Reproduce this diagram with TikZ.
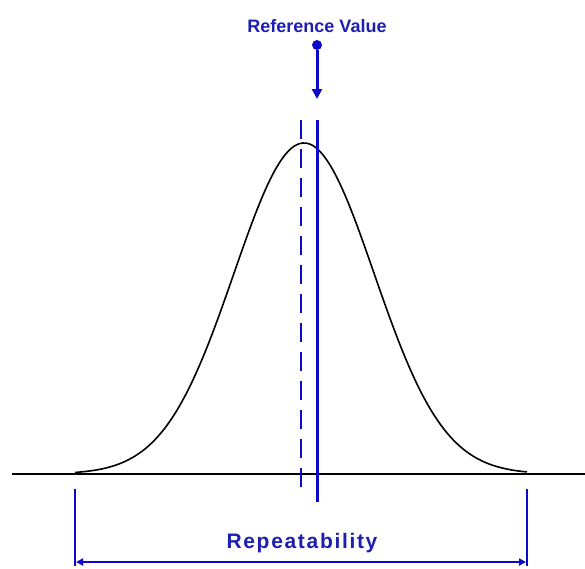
\documentclass[tikz,border=0pt]{standalone}
\usepackage{fontspec}
\setmainfont{Liberation Sans}
\newfontfamily\repfont[LetterSpace=8]{Liberation Sans}
\usetikzlibrary{arrows.meta}
\definecolor{refblue}{RGB}{10,10,200}
\definecolor{txtblue}{RGB}{30,30,175}
\begin{document}
\begin{tikzpicture}[x=1pt,y=-1pt,
  lbl/.style={text=txtblue,font=\bfseries,inner sep=0pt,anchor=base},
  bluethick/.style={draw=refblue,line width=3pt},
  bluethin/.style={draw=refblue,line width=1.2pt}]
\useasboundingbox (0,0) rectangle (585,568);
% baseline
\coordinate (bl) at (12,474);
\coordinate (br) at (585,474);
\draw[line width=1.3pt] (bl) -- (br);
% gaussian
\draw[line width=1.6pt,smooth] plot[domain=75:527,samples=120] (\x,{474-331*exp(-((\x-304)/70)^2/2)});
% reference value
\node[lbl,font=\bfseries\fontsize{18}{20}\selectfont] (rv) at (317,32) {Reference Value};
\node[circle,fill=refblue,inner sep=0pt,minimum size=10pt] (dot) at (317,45) {};
\coordinate (tip) at (317,99);
\draw[bluethick,-{Triangle[length=10pt,width=10pt]}] (dot) -- (tip);
% solid and dashed lines
\coordinate (s1) at (317,120);
\coordinate (s2) at (317,502);
\draw[bluethick] (s1) -- (s2);
\coordinate (d1) at (301,120);
\coordinate (d2) at (301,494);
\draw[refblue,line width=2.4pt,dash pattern=on 19pt off 10pt] (d1) -- (d2);
% repeatability
\coordinate (l1) at (75,489);
\coordinate (l2) at (75,566);
\coordinate (r1) at (527,489);
\coordinate (r2) at (527,566);
\draw[bluethin] (l1) -- (l2);
\draw[bluethin] (r1) -- (r2);
\coordinate (a1) at (76,562);
\coordinate (a2) at (526,562);
\draw[refblue,line width=2.4pt,{Triangle[length=7pt,width=7pt]}-{Triangle[length=7pt,width=7pt]}] (a1) -- (a2);
\node[lbl,font=\repfont\bfseries\fontsize{21}{23}\selectfont] (rep) at (302,548) {Repeatability};
\end{tikzpicture}
\end{document}
